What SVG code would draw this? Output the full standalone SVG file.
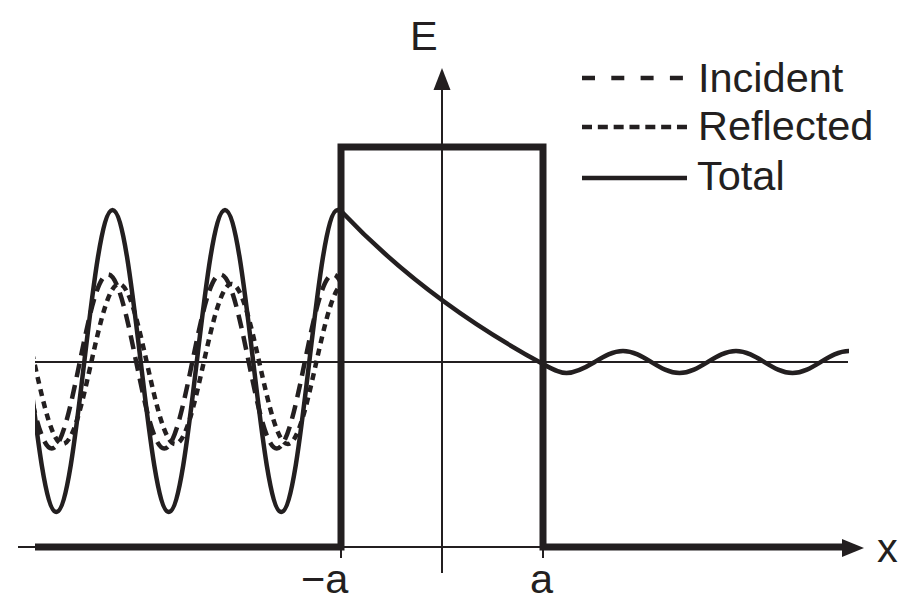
<svg xmlns="http://www.w3.org/2000/svg" width="916" height="604" viewBox="0 0 916 604">
<style>
.ink{fill:none;stroke:#231f20}
.thin{stroke-width:2}
.thick{stroke-width:7;stroke-linejoin:miter}
.total{stroke-width:4.5;stroke-linejoin:round}
.inc{stroke-width:4.5;stroke-dasharray:14 8}
.ref{stroke-width:4.5;stroke-dasharray:7 5.5}
.lbl{font-family:"Liberation Sans",Arial,Helvetica,sans-serif;font-size:41.5px;fill:#231f20}
.head{fill:#231f20;stroke:none}
</style>
<defs>
<clipPath id="clipTotal"><rect x="35" y="0" width="881" height="604"/></clipPath>
<clipPath id="clipLeft"><rect x="35" y="0" width="304" height="604"/></clipPath>
</defs>
<rect width="916" height="604" fill="#ffffff"/>
<g id="axes">
<line class="ink thin" x1="18" y1="547" x2="846" y2="547"/>
<line class="ink thin" x1="35" y1="362" x2="848" y2="362"/>
<line class="ink thin" x1="442" y1="86" x2="442" y2="573"/>
<polygon class="head" points="442,68 433.5,90 450.5,90"/>
<line class="ink thin" x1="341" y1="547" x2="341" y2="558"/>
<line class="ink thin" x1="543" y1="547" x2="543" y2="558"/>
</g>
<g id="barrier">
<path class="ink thick" d="M35,547 H341 V147 H543 V547 H846"/>
<polygon class="head" points="864,548 842,539 842,557"/>
</g>
<g id="incident" clip-path="url(#clipLeft)">
<path class="ink inc" d="M-4.5,274.5 C5.68,274.5 14.45,316.9 23.63,361.5 S41.57,448.5 51.75,448.5 S70.7,406.1 79.88,361.5 S97.82,274.5 108,274.5 S126.95,316.9 136.13,361.5 S154.07,448.5 164.25,448.5 S183.2,406.1 192.38,361.5 S210.32,274.5 220.5,274.5 S239.45,316.9 248.63,361.5 S266.57,448.5 276.75,448.5 S295.7,406.1 304.88,361.5 S322.82,274.5 333,274.5 S351.95,316.9 361.13,361.5"/>
</g>
<g id="reflected" clip-path="url(#clipLeft)">
<path class="ink ref" d="M6.5,284 C16.68,284 25.45,323 34.63,364 S52.57,444 62.75,444 S81.7,405 90.88,364 S108.82,284 119,284 S137.95,323 147.13,364 S165.07,444 175.25,444 S194.2,405 203.38,364 S221.32,284 231.5,284 S250.45,323 259.63,364 S277.57,444 287.75,444 S306.7,405 315.88,364 S333.82,284 344,284"/>
</g>
<g id="total" clip-path="url(#clipTotal)">
<path class="ink total" d="M0,210 C10.18,210 18.95,283.6 28.13,361 S46.07,512 56.25,512 S75.2,438.4 84.38,361 S102.32,210 112.5,210 S131.45,283.6 140.63,361 S158.57,512 168.75,512 S187.7,438.4 196.88,361 S214.82,210 225,210 S243.95,283.6 253.13,361 S271.07,512 281.25,512 S300.2,438.4 309.38,361 S327.32,210 337.5,210 L341,211 Q425,300 543,364 C551,368.5 558.5,373 566.5,373 S585.54,367.6 594.75,362 S612.78,351 623,351 S642.04,356.4 651.25,362 S669.28,373 679.5,373 S698.54,367.6 707.75,362 S725.78,351 736,351 S755.04,356.4 764.25,362 S782.28,373 792.5,373 S811.54,367.6 820.75,362 S838.78,351 849,351"/>
</g>
<g id="legend">
<line class="ink" stroke-width="4.5" stroke-dasharray="13 16.3" x1="582" y1="78" x2="684" y2="78"/>
<text class="lbl" x="698" y="92">Incident</text>
<line class="ink" stroke-width="4.5" stroke-dasharray="10 5.83" x1="582" y1="127" x2="688" y2="127"/>
<text class="lbl" x="698" y="140">Reflected</text>
<line class="ink" stroke-width="4.5" x1="582" y1="178" x2="687" y2="178"/>
<text class="lbl" x="697" y="190">Total</text>
</g>
<g id="labels">
<text class="lbl" x="410" y="50">E</text>
<text class="lbl" x="877" y="562">x</text>
<text class="lbl" x="301" y="593">−a</text>
<text class="lbl" x="530" y="593">a</text>
</g>
</svg>
